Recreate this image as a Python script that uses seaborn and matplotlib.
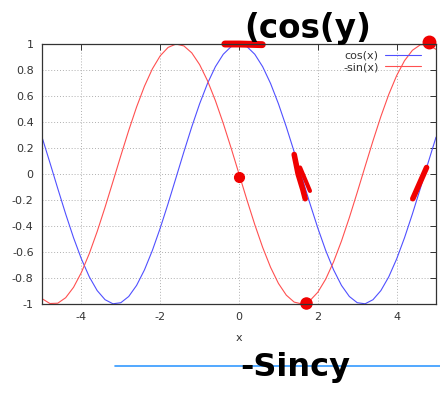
import matplotlib
matplotlib.use("Agg")
import matplotlib.pyplot as plt
from matplotlib.lines import Line2D
import seaborn as sns

# Sample positions along x and the two plotted functions at those positions
x_vals = [-5.0, -4.8, -4.6, -4.4, -4.2, -4.0, -3.8, -3.6, -3.4, -3.2, -3.0,
          -2.8, -2.6, -2.4, -2.2, -2.0, -1.8, -1.6, -1.4, -1.2, -1.0,
          -0.8, -0.6, -0.4, -0.2, 0.0, 0.2, 0.4, 0.6, 0.8, 1.0,
          1.2, 1.4, 1.6, 1.8, 2.0, 2.2, 2.4, 2.6, 2.8, 3.0,
          3.2, 3.4, 3.6, 3.8, 4.0, 4.2, 4.4, 4.6, 4.8, 5.0]

cos_vals = [0.2837, 0.0875, -0.1122, -0.3073, -0.4903, -0.6536, -0.7910, -0.8968, -0.9668, -0.9983, -0.9900,
            -0.9422, -0.8569, -0.7374, -0.5885, -0.4161, -0.2272, -0.0292, 0.1700, 0.3624, 0.5403,
            0.6967, 0.8253, 0.9211, 0.9801, 1.0000, 0.9801, 0.9211, 0.8253, 0.6967, 0.5403,
            0.3624, 0.1700, -0.0292, -0.2272, -0.4161, -0.5885, -0.7374, -0.8569, -0.9422, -0.9900,
            -0.9983, -0.9668, -0.8968, -0.7910, -0.6536, -0.4903, -0.3073, -0.1122, 0.0875, 0.2837]

neg_sin_vals = [-0.9589, -0.9962, -0.9937, -0.9516, -0.8716, -0.7568, -0.6119, -0.4425, -0.2555, -0.0584, 0.1411,
                0.3350, 0.5155, 0.6755, 0.8085, 0.9093, 0.9738, 0.9996, 0.9854, 0.9320, 0.8415,
                0.7174, 0.5646, 0.3894, 0.1987, 0.0000, -0.1987, -0.3894, -0.5646, -0.7174, -0.8415,
                -0.9320, -0.9854, -0.9996, -0.9738, -0.9093, -0.8085, -0.6755, -0.5155, -0.3350, -0.1411,
                0.0584, 0.2555, 0.4425, 0.6119, 0.7568, 0.8716, 0.9516, 0.9937, 0.9962, 0.9589]

series_labels = ["cos(x)", "-sin(x)"]
x_ticks = [-4, -2, 0, 2, 4]
y_ticks = [-1, -0.8, -0.6, -0.4, -0.2, 0, 0.2, 0.4, 0.6, 0.8, 1]
y_tick_labels = ["-1", "-0.8", "-0.6", "-0.4", "-0.2", "0", "0.2", "0.4", "0.6", "0.8", "1"]

sns.set_style("white")
plt.rcParams["font.family"] = ["DejaVu Sans"]

fig = plt.figure(figsize=(4.4, 3.94), dpi=100)
ax = fig.add_axes([0.0955, 0.2284, 0.8955, 0.6599])

sns.lineplot(x=x_vals, y=cos_vals, color="#5050ff", linewidth=0.8,
             label=series_labels[0], ax=ax, sort=False)
sns.lineplot(x=x_vals, y=neg_sin_vals, color="#ff5050", linewidth=0.8,
             label=series_labels[1], ax=ax, sort=False)

ax.set_xlim(-5, 5)
ax.set_ylim(-1, 1)
ax.set_xticks(x_ticks)
ax.set_xticklabels([str(t) for t in x_ticks])
ax.set_yticks(y_ticks)
ax.set_yticklabels(y_tick_labels)
ax.set_xlabel("x", fontsize=8, color="#333333", labelpad=8)
ax.set_ylabel("")

ax.grid(True, color="#b0b0b0", linestyle=(0, (1, 2)), linewidth=0.7)
ax.tick_params(direction="in", top=True, right=True, length=4, width=0.7,
               labelsize=8, labelcolor="#333333", color="#333333", pad=6)
for s in ax.spines.values():
    s.set_color("#333333")
    s.set_linewidth(0.9)

leg = ax.legend(loc="upper right", frameon=False, markerfirst=False, fontsize=8,
                handlelength=3.2, handletextpad=0.6, labelspacing=0.15,
                borderaxespad=0.3, borderpad=0.3,
                bbox_to_anchor=(0.978, 1.0))
for t in leg.get_texts():
    t.set_color("#333333")

# Red pen marks over the plot
red = "#f00000"
ax.plot([-0.36, 0.0, 0.59], [1.0, 1.0, 0.995], color=red, linewidth=5,
        solid_capstyle="round", clip_on=False)
ax.plot([0.0], [-0.02], "o", color=red, markersize=7, clip_on=False)
ax.plot([1.40, 1.50, 1.62, 1.68], [0.15, 0.0, -0.12, -0.19], color=red, linewidth=4,
        solid_capstyle="round", clip_on=False)
ax.plot([1.55, 1.80], [0.05, -0.13], color=red, linewidth=3,
        solid_capstyle="round", clip_on=False)
ax.plot([4.82], [1.015], "o", color=red, markersize=9, clip_on=False)
ax.plot([1.71], [-0.99], marker="o", color=red, markersize=8, clip_on=False)
ax.plot([4.41, 4.76], [-0.19, 0.05], color=red, linewidth=4,
        solid_capstyle="round", clip_on=False)

# Handwritten-style notes
fig.text(0.555, 0.928, "(cos(y)", fontsize=23.5, fontweight="bold", color="black",
         ha="left", va="center")
fig.text(0.545, 0.066, "-Sincy", fontsize=23, fontweight="bold", color="black",
         ha="left", va="center", zorder=5)

# Blue rule across the lower part of the figure
fig.add_artist(Line2D([0.261, 1.0], [0.071, 0.071], color="#3399ff", linewidth=1.2,
                      transform=fig.transFigure, zorder=1))

fig.savefig("out.png", dpi=100)
